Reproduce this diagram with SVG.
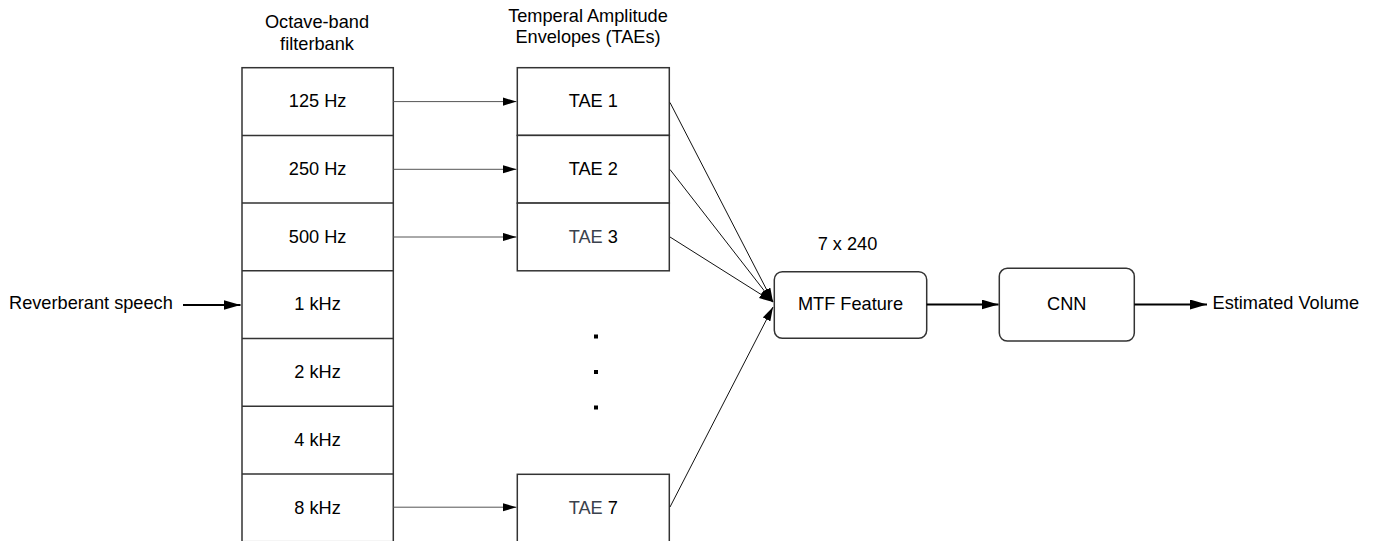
<svg xmlns="http://www.w3.org/2000/svg" width="1388" height="541" viewBox="0 0 1388 541">
<defs>
<marker id="ah" markerUnits="userSpaceOnUse" markerWidth="15" markerHeight="9" refX="14" refY="4.2" orient="auto"><path d="M0,0 L14,4.2 L0,8.4 z" fill="#000"/></marker>
<marker id="ahb" markerUnits="userSpaceOnUse" markerWidth="18" markerHeight="11" refX="17" refY="5" orient="auto"><path d="M0,0 L17,5 L0,10 z" fill="#000"/></marker>
</defs>
<style>
text{font-family:"Liberation Sans",Arial,sans-serif;font-size:18.2px;fill:#000}
.c{text-anchor:middle}
.box{fill:#fff;stroke:#333;stroke-width:1.5}
.thin{stroke:#555;stroke-width:1;fill:none}
.conv{stroke:#111;stroke-width:1;fill:none}
.thick{stroke:#000;stroke-width:2;fill:none}
.g{fill:#3b424d}
</style>
<g id="labels">
<text class="c" x="317" y="28">Octave-band</text>
<text class="c" x="317" y="49.5">filterbank</text>
<text class="c" x="588" y="21.5">Temperal Amplitude</text>
<text class="c" x="588" y="43">Envelopes (TAEs)</text>
<text class="c" x="847.5" y="249.5">7 x 240</text>
<text x="9" y="308.5">Reverberant speech</text>
<text x="1212.5" y="308.5">Estimated Volume</text>
</g>
<g id="filterbank">
<rect class="box" x="242" y="67.7" width="151.3" height="474"/>
<path class="box" d="M242,135.4H393.3M242,203.1H393.3M242,270.8H393.3M242,338.5H393.3M242,406.2H393.3M242,473.9H393.3"/>
<text class="c" x="317.6" y="107.3">125 Hz</text>
<text class="c" x="317.6" y="175">250 Hz</text>
<text class="c" x="317.6" y="242.7">500 Hz</text>
<text class="c" x="317.6" y="310.4">1 kHz</text>
<text class="c" x="317.6" y="378.1">2 kHz</text>
<text class="c" x="317.6" y="445.8">4 kHz</text>
<text class="c" x="317.6" y="513.5">8 kHz</text>
</g>
<g id="tae1"><rect class="box" x="517.3" y="67.7" width="152" height="67.7"/><text class="c" x="593.3" y="107.3">TAE 1</text></g>
<g id="tae2"><rect class="box" x="517.3" y="135.4" width="152" height="67.7"/><text class="c" x="593.3" y="175">TAE 2</text></g>
<g id="tae3"><rect class="box" x="517.3" y="203.1" width="152" height="67.7"/><text class="c" x="593.3" y="242.7"><tspan class="g">TAE </tspan>3</text></g>
<g id="dots"><rect x="594" y="334.5" width="4" height="4" fill="#000"/><rect x="594" y="370" width="4" height="4" fill="#000"/><rect x="594" y="405.5" width="4" height="4" fill="#000"/></g>
<g id="tae7"><rect class="box" x="517.3" y="474.3" width="152" height="67.7"/><text class="c" x="593.3" y="513.5"><tspan class="g">TAE </tspan>7</text></g>
<g id="mtf"><rect class="box" x="774.3" y="271.7" width="152.4" height="66.6" rx="8"/><text class="c" x="850.5" y="309.5">MTF Feature</text></g>
<g id="cnn"><rect class="box" x="999.3" y="268.3" width="135" height="72.7" rx="8"/><text class="c" x="1066.8" y="310">CNN</text></g>
<g id="connectors">
<path class="thick" d="M183,305H240.5" marker-end="url(#ahb)"/>
<path class="thin" d="M393.3,101.6H516.5" marker-end="url(#ah)"/>
<path class="thin" d="M393.3,169.3H516.5" marker-end="url(#ah)"/>
<path class="thin" d="M393.3,237H516.5" marker-end="url(#ah)"/>
<path class="thin" d="M393.3,507.2H516.5" marker-end="url(#ah)"/>
<path class="conv" d="M670,102.5L773,302" marker-end="url(#ah)"/>
<path class="conv" d="M670,169.5L773,302" marker-end="url(#ah)"/>
<path class="conv" d="M670,237L773,302" marker-end="url(#ah)"/>
<path class="conv" d="M670,507L773,307" marker-end="url(#ah)"/>
<path class="thick" d="M926.7,304.5H998.5" marker-end="url(#ahb)"/>
<path class="thick" d="M1134.3,304.5H1207" marker-end="url(#ahb)"/>
</g>
</svg>
